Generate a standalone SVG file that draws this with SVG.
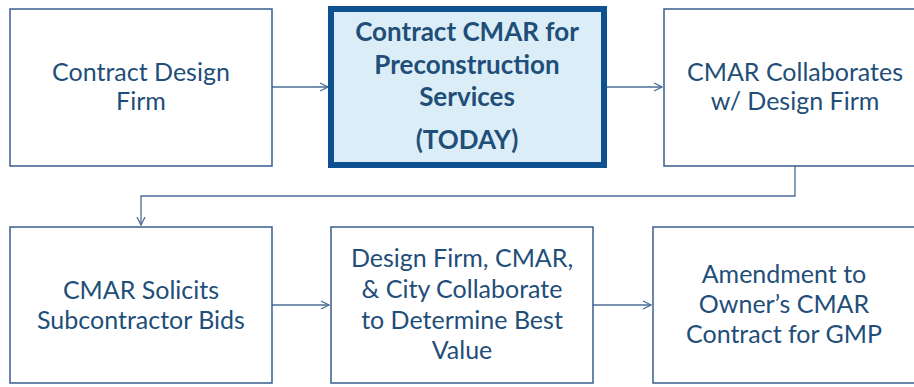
<svg xmlns="http://www.w3.org/2000/svg" width="914" height="387" viewBox="0 0 914 387">
<defs>
<style>
.box{fill:#ffffff;stroke:#385d8a;stroke-width:1.5}
.hl{fill:#dbeef8;stroke:#0f5190;stroke-width:6}
.t{font-family:Lato,"Open Sans","Liberation Sans",sans-serif;font-size:25px;fill:#1f4e79;text-anchor:middle}
.b{font-weight:bold;font-size:26px}
.c{fill:none;stroke:#4a6d96;stroke-width:1.3}
</style>
<marker id="ah" markerWidth="10" markerHeight="10" refX="9" refY="5" orient="auto" markerUnits="userSpaceOnUse">
<path d="M1,1 L9,5 L1,9" fill="none" stroke="#4a6d96" stroke-width="1.3"/>
</marker>
</defs>
<g id="connectors">
<line class="c" x1="272" y1="87" x2="328" y2="87" marker-end="url(#ah)"/>
<line class="c" x1="607" y1="87" x2="662" y2="87" marker-end="url(#ah)"/>
<polyline class="c" points="795,166 795,196 141,196 141,225" marker-end="url(#ah)"/>
<line class="c" x1="272" y1="305" x2="329" y2="305" marker-end="url(#ah)"/>
<line class="c" x1="593" y1="305" x2="651" y2="305" marker-end="url(#ah)"/>
</g>
<g id="n1">
<rect class="box" x="10" y="9" width="262" height="157"/>
<text class="t" x="141" y="81">Contract Design</text>
<text class="t" x="141" y="110">Firm</text>
</g>
<g id="n2">
<rect class="hl" x="331" y="9" width="273" height="156"/>
<text class="t b" x="467" y="41">Contract CMAR for</text>
<text class="t b" x="467" y="74">Preconstruction</text>
<text class="t b" x="467" y="106">Services</text>
<text class="t b" x="467" y="149">(TODAY)</text>
</g>
<g id="n3">
<rect class="box" x="664" y="9" width="262" height="157"/>
<text class="t" x="795" y="81">CMAR Collaborates</text>
<text class="t" x="795" y="110">w/ Design Firm</text>
</g>
<g id="n4">
<rect class="box" x="10" y="227" width="262" height="156"/>
<text class="t" x="141" y="299">CMAR Solicits</text>
<text class="t" x="141" y="329">Subcontractor Bids</text>
</g>
<g id="n5">
<rect class="box" x="331" y="227" width="262" height="156"/>
<text class="t" x="462" y="267">Design Firm, CMAR,</text>
<text class="t" x="462" y="298">&amp; City Collaborate</text>
<text class="t" x="462" y="329">to Determine Best</text>
<text class="t" x="462" y="359">Value</text>
</g>
<g id="n6">
<rect class="box" x="653" y="227" width="262" height="156"/>
<text class="t" x="784" y="283">Amendment to</text>
<text class="t" x="784" y="313">Owner’s CMAR</text>
<text class="t" x="784" y="343">Contract for GMP</text>
</g>
</svg>
